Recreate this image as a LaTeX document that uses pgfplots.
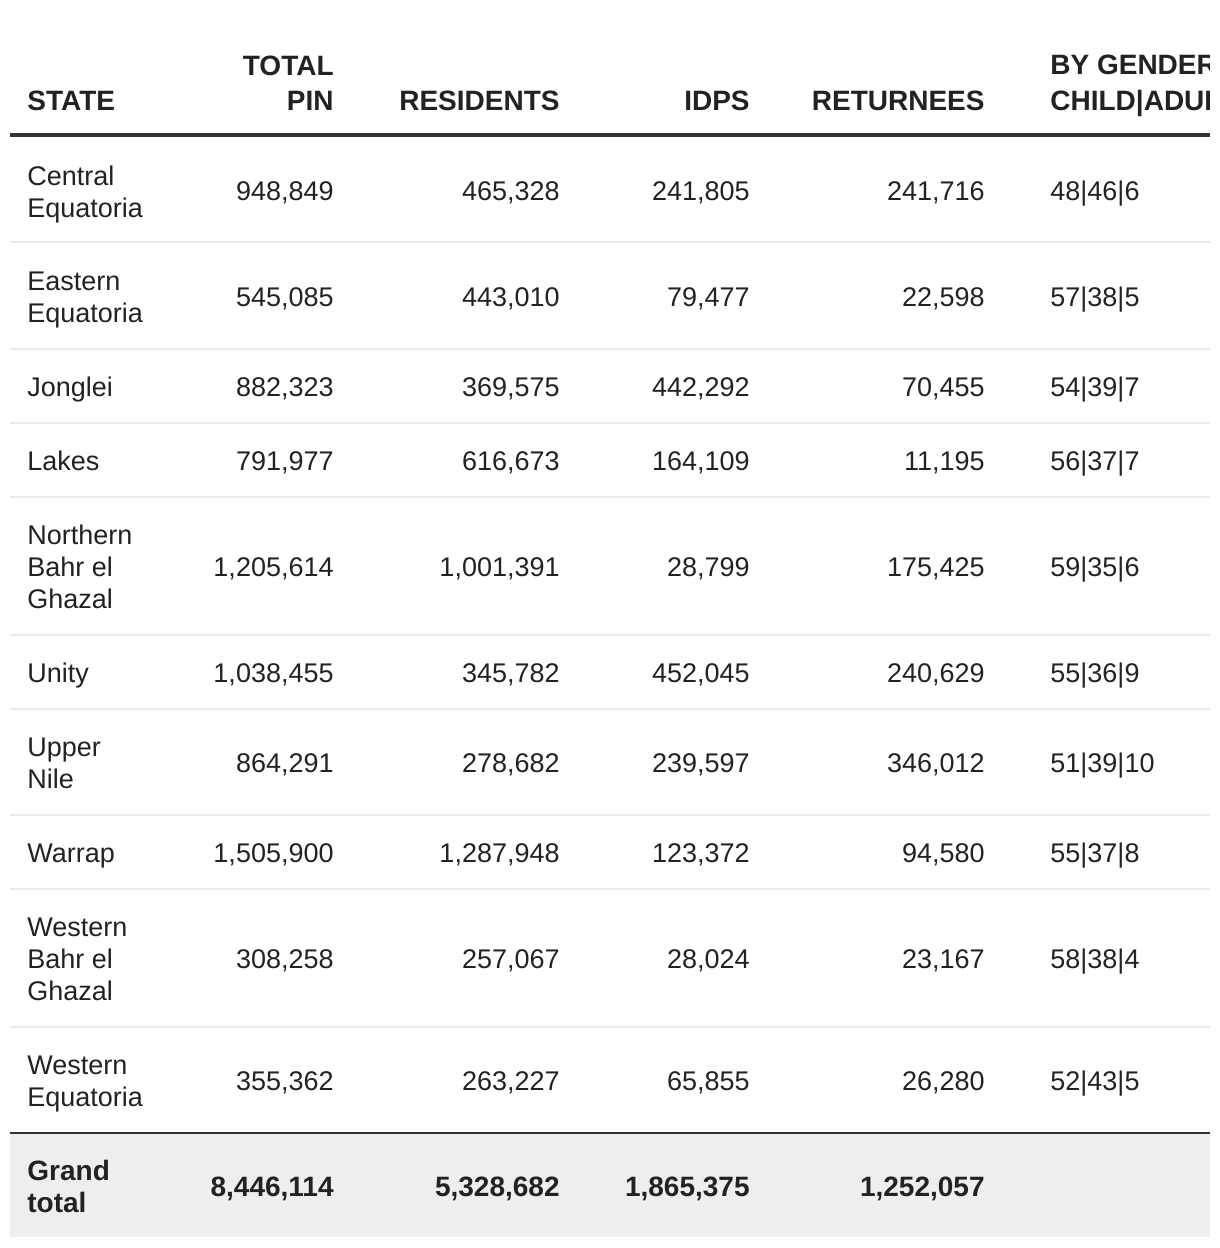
\documentclass[border=0pt]{standalone}
\usepackage{pgfplots}
\pgfplotsset{compat=1.18}
\usepackage{pgfplotstable}
\usepackage{fontspec}
\setmainfont{Liberation Sans}

\definecolor{txt}{HTML}{222222}
\definecolor{rulec}{HTML}{333333}
\definecolor{sepc}{HTML}{EBEBEB}
\definecolor{totbg}{HTML}{EEEEEE}
\newcommand{\cellfont}{\fontsize{13.5}{16}\selectfont}
\newcommand{\boldfont}{\fontsize{14}{16}\selectfont\bfseries}

% one row per state, y = baseline of the one-line cells (px from top)
\pgfplotstableread{
y    pin        res        idp      ret      gen
200  948,849    465,328    241,805  241,716  48|46|6
306  545,085    443,010    79,477   22,598   57|38|5
396  882,323    369,575    442,292  70,455   54|39|7
470  791,977    616,673    164,109  11,195   56|37|7
576  1,205,614  1,001,391  28,799   175,425  59|35|6
682  1,038,455  345,782    452,045  240,629  55|36|9
772  864,291    278,682    239,597  346,012  51|39|10
862  1,505,900  1,287,948  123,372  94,580   55|37|8
968  308,258    257,067    28,024   23,167   58|38|4
1090 355,362    263,227    65,855   26,280   52|43|5
}\body

% state names, one line each
\pgfplotstableread{
y    label
185  Central
217  Equatoria
290  Eastern
322  Equatoria
396  Jonglei
470  Lakes
544  Northern
576  {Bahr el}
608  Ghazal
682  Unity
756  Upper
788  Nile
862  Warrap
936  Western
968  {Bahr el}
1000 Ghazal
1074 Western
1106 Equatoria
}\states

\pgfplotsset{
  cell/.style={draw=none, mark=none, nodes near coords,
    point meta=explicit symbolic,
    every node near coord/.append style={inner sep=0pt, text=txt,
      font=\cellfont, anchor=#1}},
  boldcell/.style={cell=#1,
    every node near coord/.append style={font=\boldfont}},
}

\begin{document}
\begin{tikzpicture}
\begin{axis}[width=610pt, height=624pt, scale only axis,
             xmin=0, xmax=1220, ymin=0, ymax=1248,
             y dir=reverse, hide axis, clip=false]

    % grand total background
    \addplot[fill=totbg, draw=none] coordinates {
        (10,1134) (1210,1134) (1210,1237) (10,1237)};

    % rules
    \addplot[rulec, line width=2pt] coordinates {(10,135) (1210,135)};
    \addplot[rulec, line width=1pt] coordinates {(10,1133) (1210,1133)};
    \addplot[sepc, line width=1pt] coordinates {(10,242) (1210,242)};
    \addplot[sepc, line width=1pt] coordinates {(10,349) (1210,349)};
    \addplot[sepc, line width=1pt] coordinates {(10,423) (1210,423)};
    \addplot[sepc, line width=1pt] coordinates {(10,497) (1210,497)};
    \addplot[sepc, line width=1pt] coordinates {(10,635) (1210,635)};
    \addplot[sepc, line width=1pt] coordinates {(10,709) (1210,709)};
    \addplot[sepc, line width=1pt] coordinates {(10,815) (1210,815)};
    \addplot[sepc, line width=1pt] coordinates {(10,889) (1210,889)};
    \addplot[sepc, line width=1pt] coordinates {(10,1027) (1210,1027)};

    % header
    \addplot[boldcell=base west] coordinates {
        (27,110) [STATE] (1050,74) [BY GENDER] (1050,110) [CHILD|ADULT]};
    \addplot[boldcell=base east] coordinates {
        (334,75) [TOTAL] (334,110) [PIN] (560,110) [RESIDENTS]
        (750,110) [IDPS] (985,110) [RETURNEES]};

    % body
    \addplot[cell=base west] table[x expr=27, y=y, meta=label] \states;
    \addplot[cell=base east] table[x expr=334, y=y, meta=pin] \body;
    \addplot[cell=base east] table[x expr=560, y=y, meta=res] \body;
    \addplot[cell=base east] table[x expr=750, y=y, meta=idp] \body;
    \addplot[cell=base east] table[x expr=985, y=y, meta=ret] \body;
    \addplot[cell=base west] table[x expr=1050, y=y, meta=gen] \body;

    % grand total
    \addplot[boldcell=base west] coordinates {
        (27,1180) [Grand] (27,1212) [total]};
    \addplot[boldcell=base east] coordinates {
        (334,1196) [8,446,114] (560,1196) [5,328,682]
        (750,1196) [1,865,375] (985,1196) [1,252,057]};

    \coordinate (TL) at (axis cs:0,0);
    \coordinate (BR) at (axis cs:1220,1248);
    \coordinate (CL) at (axis cs:1210,0);
\end{axis}
\fill[white] (CL) rectangle (BR);
\pgfresetboundingbox
\useasboundingbox (TL) rectangle (BR);
\end{tikzpicture}
\end{document}
